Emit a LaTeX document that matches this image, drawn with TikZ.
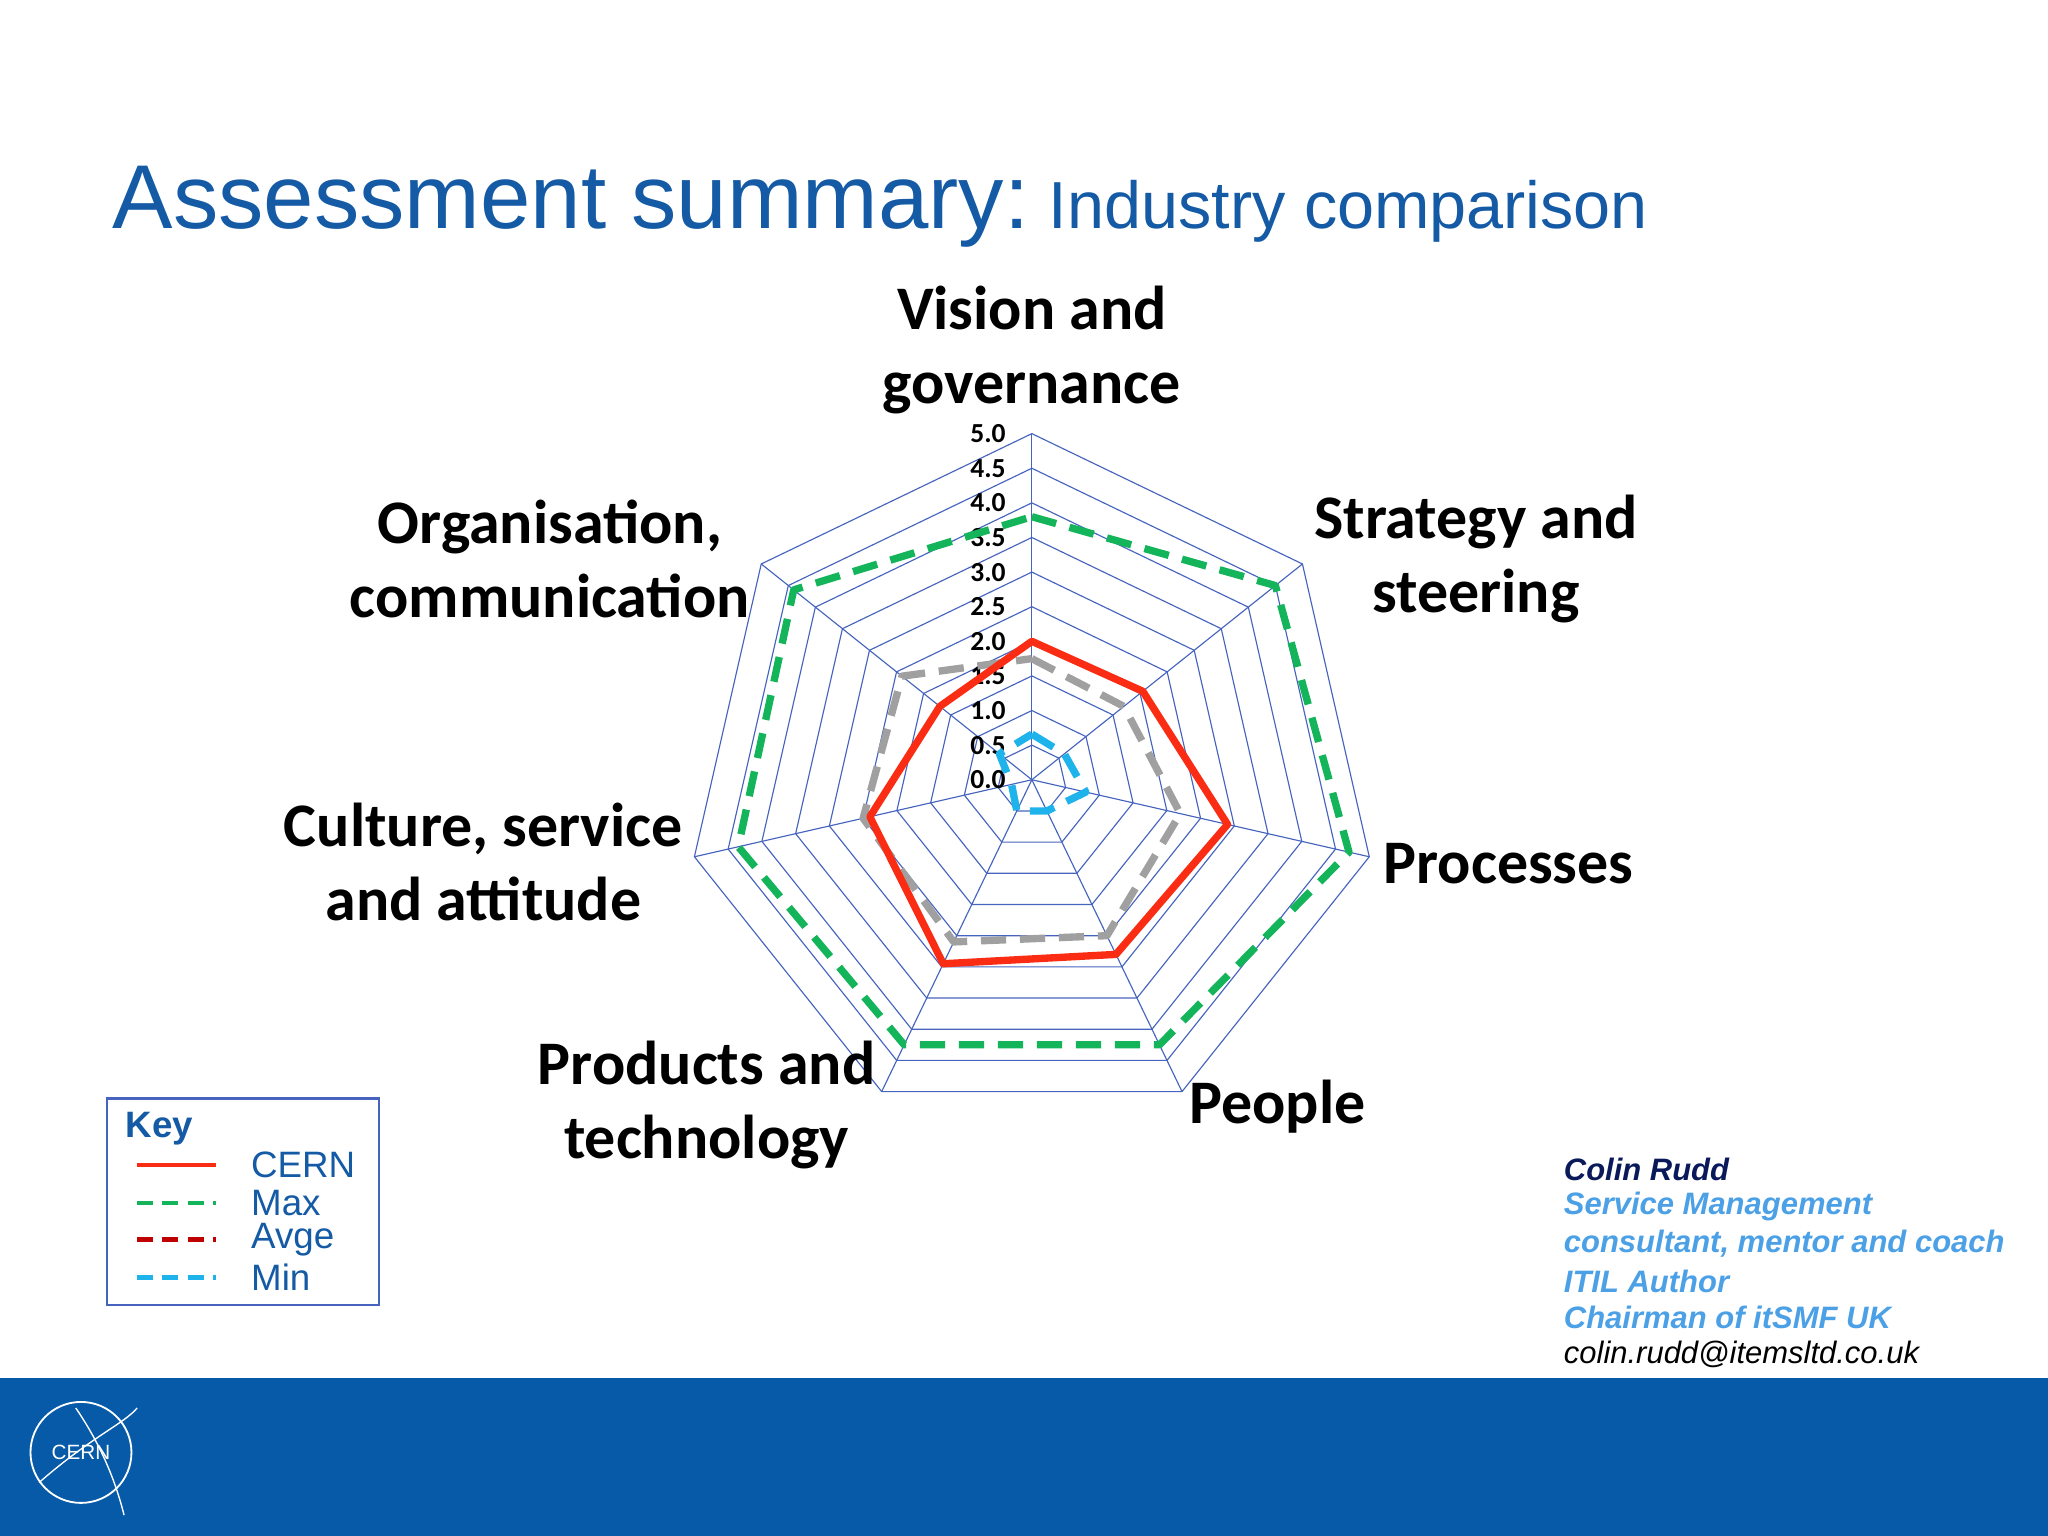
\documentclass[tikz,border=0pt]{standalone}
\usepackage{fontspec}
\usetikzlibrary{calc}
\setmainfont{Liberation Sans}
\newfontfamily\calfont{Carlito}
\definecolor{ttl}{RGB}{20,90,165}
\definecolor{band}{RGB}{6,90,168}
\definecolor{grid}{RGB}{70,100,190}
\definecolor{cern}{RGB}{250,45,20}
\definecolor{mx}{RGB}{20,180,90}
\definecolor{avg}{RGB}{160,160,160}
\definecolor{mn}{RGB}{30,180,235}
\definecolor{navy}{RGB}{10,25,90}
\definecolor{lb}{RGB}{75,160,230}
\begin{document}
\begin{tikzpicture}[x=0.02cm,y=0.02cm,
  cat/.style={font=\calfont\bfseries\fontsize{27}{32}\selectfont,align=center},
  tick/.style={font=\calfont\bfseries\fontsize{12}{12}\selectfont,anchor=east,inner sep=1pt},
  ser/.style={line width=3.2pt,line join=round},
  dsh/.style={ser,dash pattern=on 11pt off 6pt},
  auth/.style={anchor=west,inner sep=0pt,font=\bfseries\itshape\fontsize{13.5}{14}\selectfont}]
\useasboundingbox (0,0) rectangle (1568,-1176);
\fill[band] (0,-1055) rectangle (1568,-1176);
% logo
\node[circle,draw=white,line width=0.8pt,minimum size=44pt,inner sep=0pt,text=white,font=\fontsize{9}{10}\selectfont] (logo) at (62,-1112) {CERN};
\draw[white,line width=0.6pt] (30,-1135) .. controls (70,-1100) and (95,-1090) .. (105,-1078);
\draw[white,line width=0.6pt] (58,-1078) .. controls (80,-1110) and (90,-1140) .. (95,-1160);
% title
\node[anchor=base west,text=ttl,inner sep=0pt] (t1) at (86,-175) {\fontsize{39.5}{46}\selectfont Assessment summary:};
\node[anchor=base west,text=ttl,inner sep=0pt] (t2) at (t1.base east) {\fontsize{29}{32}\selectfont\ Industry comparison};
\coordinate (C) at (790,-597);
% grid
\foreach \r in {1,...,10}{
  \draw[grid,line width=0.5pt] ($(C)+(90:26.5*\r)$) \foreach \k in {1,...,6}{ -- ($(C)+(90-\k*360/7:26.5*\r)$)} -- cycle;}
\foreach \k in {0,...,6} \draw[grid,line width=0.5pt] (C) -- ($(C)+(90-\k*360/7:265)$);
\foreach \v [count=\i from 0] in {0.0,0.5,1.0,1.5,2.0,2.5,3.0,3.5,4.0,4.5,5.0}
  \node[tick] (tk\i) at ($(C)+(-18,26.5*\i)$) {\v};
% series
\newcommand\plotser[8]{\draw[#1] ($(C)+(90:53*#2)$) -- ($(C)+(90-360/7:53*#3)$) -- ($(C)+(90-720/7:53*#4)$) -- ($(C)+(90-1080/7:53*#5)$) -- ($(C)+(90-1440/7:53*#6)$) -- ($(C)+(90-1800/7:53*#7)$) -- ($(C)+(90-2160/7:53*#8)$) -- cycle;}
\plotser{dsh,mx}{3.8}{4.5}{4.7}{4.25}{4.25}{4.35}{4.4}
\plotser{dsh,avg}{1.75}{1.7}{2.2}{2.5}{2.6}{2.5}{2.4}
\plotser{ser,cern}{2.0}{2.05}{2.9}{2.8}{2.95}{2.4}{1.7}
\plotser{dsh,mn}{0.66}{0.6}{0.8}{0.5}{0.5}{0.3}{0.6}
% categories
\node[cat] (c1) at (790,-268) {Vision and\\governance};
\node[cat] (c2) at (1130,-428) {Strategy and\\steering};
\node[cat] (c3) at (1155,-661) {Processes};
\node[cat] (c4) at (978,-847) {People};
\node[cat] (c5) at (541,-846) {Products and\\technology};
\node[cat] (c6) at (370,-660) {Culture, service\\and attitude};
\node[cat] (c7) at (421,-428) {Organisation,\\communication};
% key
\draw[grid,line width=1pt] (82,-841) rectangle (290,-999);
\node[anchor=west,text=ttl,font=\bfseries\fontsize{16}{18}\selectfont,inner sep=0pt] (kk) at (96,-864) {Key};
\foreach \y/\c/\t in {921/mx/Max,949/red!75!black/Avge,978/mn/Min}{
  \draw[\c,line width=2pt,dash pattern=on 7pt off 4pt] (105,-\y) -- (165,-\y);
  \node[anchor=west,text=ttl,font=\fontsize{16}{18}\selectfont,inner sep=0pt] at (192,-\y) {\t};}
\draw[cern,line width=2pt] (105,-892) -- (165,-892);
\node[anchor=west,text=ttl,font=\fontsize{16}{18}\selectfont,inner sep=0pt] (kc) at (192,-892) {CERN};
% author
\node[auth,text=navy] (a1) at (1197,-895) {Colin Rudd};
\node[auth,text=lb] (a2) at (1197,-924) {Service Management};
\node[auth,text=lb] (a3) at (1197,-952) {consultant, mentor and coach};
\node[auth,text=lb] (a4) at (1197,-981) {ITIL Author};
\node[auth,text=lb] (a5) at (1197,-1009) {Chairman of itSMF UK};
\node[anchor=west,inner sep=0pt,font=\itshape\fontsize{13.5}{14}\selectfont] (a6) at (1197,-1037) {colin.rudd@itemsltd.co.uk};
\end{tikzpicture}
\end{document}
